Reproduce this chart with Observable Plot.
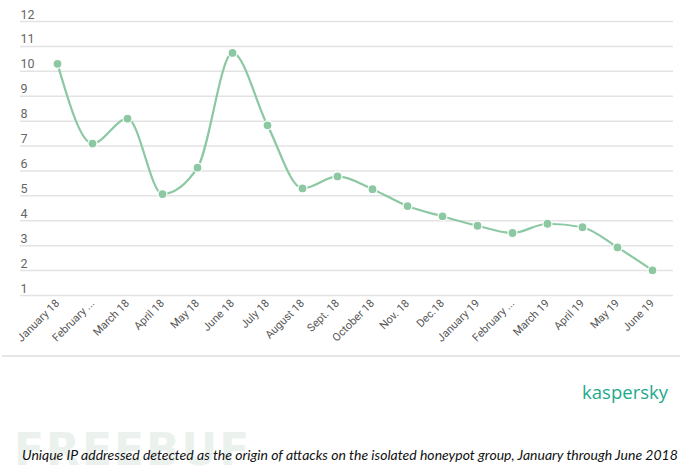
<!DOCTYPE html>
<html>
<head>
<meta charset="utf-8">
<script src="https://cdn.jsdelivr.net/npm/d3@7"></script>
<script src="https://cdn.jsdelivr.net/npm/@observablehq/plot@0.6"></script>
<style>
  body { margin: 0; background: #fff; width: 690px; height: 476px; position: relative; overflow: hidden; font-family: Roboto, sans-serif; }
  #chart { position: absolute; left: 0; top: 0; }
  #sep { position: absolute; left: 2px; width: 678px; top: 355px; height: 0; border-top: 2px solid #e6e6e6; }
  #brand { position: absolute; right: 22px; top: 379px; font-family: "Open Sans", Roboto, sans-serif; font-size: 18.5px; color: #1ea98c; }
  #wm { position: absolute; left: 14px; top: 424px; font-family: "DejaVu Sans", sans-serif; font-weight: bold; font-size: 44px; color: #ebf2ee; letter-spacing: 2px; }
  #caption { position: absolute; left: 22px; top: 446px; font-family: Lato, "Open Sans", sans-serif; font-style: italic; font-size: 14px; color: #111; white-space: nowrap; }
</style>
</head>
<body>
<div id="chart"></div>
<div id="sep"></div>
<div id="brand">kaspersky</div>
<div id="wm">FREEBUF</div>
<div id="caption">Unique IP addressed detected as the origin of attacks on the isolated honeypot group, January through June 2018</div>
<script>
const months = ["January 18","February 18","March 18","April 18","May 18","June 18","July 18","August 18","Sept. 18","October 18","Nov. 18","Dec.18","January 19","February 19","March 19","April 19","May 19","June 19"];
const tickLabels = ["January 18","February ...","March 18","April 18","May 18","June 18","July 18","August 18","Sept. 18","October 18","Nov. 18","Dec.18","January 19","February ...","March 19","April 19","May 19","June 19"];
const values = [10.3, 7.1, 8.1, 5.07, 6.13, 10.74, 7.83, 5.3, 5.78, 5.27, 4.59, 4.18, 3.8, 3.51, 3.88, 3.74, 2.93, 2.01];
const yTicks = [1,2,3,4,5,6,7,8,9,10,11,12];

const data = months.map((m, i) => ({month: m, value: values[i]}));
const labelOf = new Map(months.map((m, i) => [m, tickLabels[i]]));
const green = "#8cc8a2";

const chart = Plot.plot({
  width: 690,
  height: 356,
  marginLeft: 20,
  marginRight: 17,
  marginTop: 21,
  marginBottom: 61,
  style: {fontFamily: "Roboto, sans-serif", background: "#fff"},
  x: {type: "point", domain: months, range: [54, 655], padding: 0, axis: null, label: null},
  y: {domain: [1, 12], axis: null},
  marks: [
    Plot.ruleY(yTicks, {stroke: "#e3e3e3", strokeWidth: 1.5}),
    Plot.text(yTicks, {y: d => d, text: d => String(d), frameAnchor: "left", textAnchor: "start", dy: -7, fill: "#666", fontSize: 12.5}),
    Plot.axisX({tickSize: 0, tickRotate: -45, tickPadding: 6, tickFormat: d => labelOf.get(d), label: null, fill: "#555", fontSize: 11}),
    Plot.line(data, {x: "month", y: "value", curve: "monotone-x", stroke: green, strokeWidth: 2.2}),
    Plot.dot(data, {x: "month", y: "value", r: 4.5, fill: green, stroke: "#fff", strokeWidth: 1.2})
  ]
});
document.getElementById("chart").appendChild(chart);
</script>
</body>
</html>
